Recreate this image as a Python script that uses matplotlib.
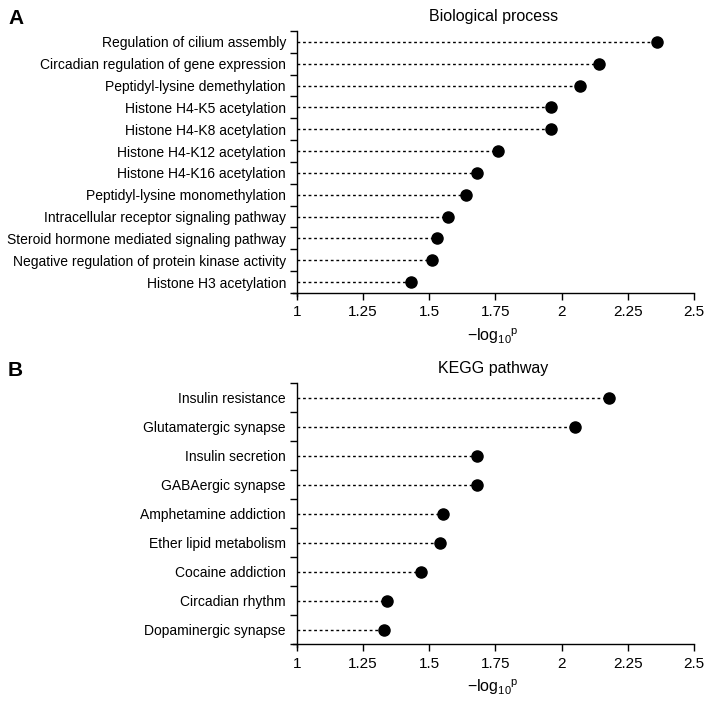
import numpy as np
import matplotlib
matplotlib.use('Agg')
import matplotlib.pyplot as plt

plt.rcParams['font.family'] = ['Liberation Sans', 'DejaVu Sans']

# Данні: панель A
bp_terms = ['Regulation of cilium assembly', 'Circadian regulation of gene expression',
            'Peptidyl-lysine demethylation', 'Histone H4-K5 acetylation',
            'Histone H4-K8 acetylation', 'Histone H4-K12 acetylation',
            'Histone H4-K16 acetylation', 'Peptidyl-lysine monomethylation',
            'Intracellular receptor signaling pathway', 'Steroid hormone mediated signaling pathway',
            'Negative regulation of protein kinase activity', 'Histone H3 acetylation']
bp_values = [2.36, 2.14, 2.07, 1.96, 1.96, 1.76, 1.68, 1.64, 1.57, 1.53, 1.51, 1.43]

# Данні: панель B
kegg_terms = ['Insulin resistance', 'Glutamatergic synapse', 'Insulin secretion',
              'GABAergic synapse', 'Amphetamine addiction', 'Ether lipid metabolism',
              'Cocaine addiction', 'Circadian rhythm', 'Dopaminergic synapse']
kegg_values = [2.18, 2.05, 1.68, 1.68, 1.55, 1.54, 1.47, 1.34, 1.33]

x_ticks = [1, 1.25, 1.5, 1.75, 2, 2.25, 2.5]
x_ticklabels = ['1', '1.25', '1.5', '1.75', '2', '2.25', '2.5']

W, H = 714, 705
fig = plt.figure(figsize=(W / 100, H / 100), dpi=100)


def panel(rect, terms, values, title, letter, letter_y, ylow):
    ax = fig.add_axes(rect)
    n = len(terms)
    y = np.arange(n)[::-1]
    for yi, v in zip(y, values):
        ax.plot([1, v], [yi, yi], color='black', linestyle=(0, (2, 2)), lw=1.0)
    ax.plot(values, y, 'o', color='black', markersize=8)

    ax.set_xlim(0.983, 2.5)
    ax.set_ylim(ylow, n - 0.5)
    ax.spines['left'].set_position(('data', 1))
    ax.spines['bottom'].set_position(('data', -0.5))
    ax.spines['right'].set_visible(False)
    ax.spines['top'].set_visible(False)
    for s in ['left', 'bottom']:
        ax.spines[s].set_linewidth(1.0)
    ax.spines['bottom'].set_bounds(0.983, 2.5)

    ax.set_xticks(x_ticks)
    ax.set_xticklabels(x_ticklabels, fontsize=11)
    ax.tick_params(axis='x', length=5, width=1, pad=4)

    ax.set_yticks(y)
    ax.set_yticklabels(terms, fontsize=10)
    ax.tick_params(axis='y', which='major', length=0, pad=8)
    ax.set_yticks(np.arange(n + 1) - 0.5, minor=True)
    ax.tick_params(axis='y', which='minor', length=5, width=1)

    ax.set_title(title, fontsize=11.5, pad=7)
    ax.set_xlabel(r'$\mathregular{-log_{10}{}^{p}}$', fontsize=11.5, labelpad=5)
    fig.text(8 / W, 1 - letter_y / H, letter, fontsize=15, fontweight='bold', va='center', ha='left')
    return ax


panel([292.5 / W, 1 - 296 / H, 401.5 / W, 265 / H], bp_terms, bp_values,
      'Biological process', 'A', 18, -0.64)
panel([292.5 / W, 1 - 647 / H, 401.5 / W, 264 / H], kegg_terms, kegg_values,
      'KEGG pathway', 'B', 370, -0.6)

fig.savefig('out.png', dpi=100)
